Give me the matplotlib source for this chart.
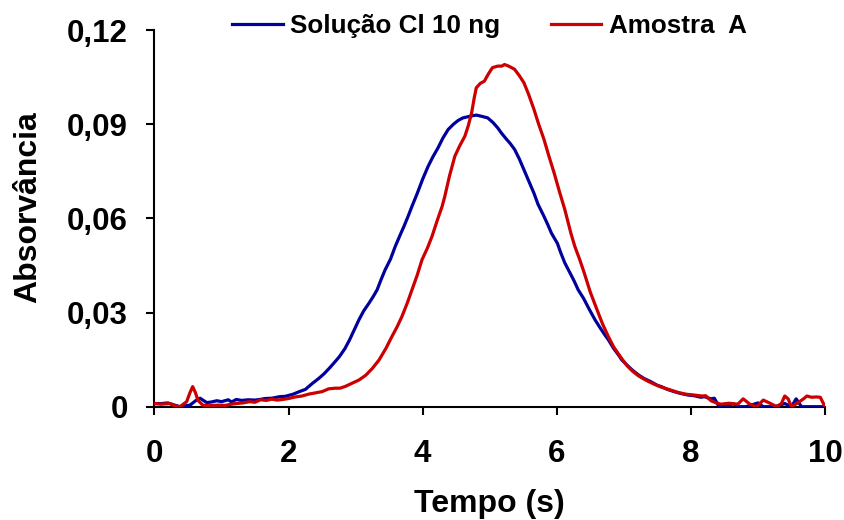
import matplotlib
matplotlib.use("Agg")
import matplotlib.pyplot as plt

plt.rcParams['font.family'] = ['Liberation Sans', 'DejaVu Sans']
plt.rcParams['font.weight'] = 'bold'

# Solução Cl 10 ng (tempo em s, absorvância)
t_sol = [0.0, 0.1, 0.2, 0.3, 0.38, 0.53, 0.62, 0.68, 0.78, 0.85, 0.93, 1.0, 1.1, 1.15, 1.22,
         1.3, 1.4, 1.5, 1.57, 1.65, 1.75, 1.87, 1.95, 2.07, 2.16, 2.25, 2.36, 2.45, 2.53,
         2.61, 2.68, 2.76, 2.84, 2.91, 2.98, 3.05, 3.12, 3.2, 3.26, 3.32, 3.38, 3.44, 3.52,
         3.59, 3.66, 3.72, 3.78, 3.84, 3.92, 4.0, 4.08, 4.15, 4.23, 4.3, 4.38, 4.46, 4.53,
         4.6, 4.7, 4.8, 4.88, 4.97, 5.05, 5.12, 5.17, 5.25, 5.3, 5.37, 5.44, 5.51, 5.58,
         5.66, 5.72, 5.81, 5.87, 5.92, 6.01, 6.06, 6.12, 6.2, 6.26, 6.32, 6.4, 6.48, 6.57,
         6.65, 6.72, 6.77, 6.85, 6.92, 6.97, 7.05, 7.13, 7.22, 7.3, 7.4, 7.5, 7.56, 7.65,
         7.75, 7.85, 7.96, 8.05, 8.15, 8.2, 8.3, 8.35, 8.42, 8.5, 8.55, 8.62, 8.72, 8.82,
         8.9, 9.0, 9.08, 9.15, 9.25, 9.4, 9.5, 9.57, 9.65, 9.8, 10.0]
a_sol = [0.001, 0.001, 0.0012, 0.0005, 0.0, 0.0005, 0.002, 0.0027, 0.0013, 0.0015, 0.0019,
         0.0016, 0.0022, 0.0015, 0.0023, 0.002, 0.0022, 0.0021, 0.0023, 0.0026, 0.0027,
         0.0032, 0.0033, 0.004, 0.0048, 0.0055, 0.0075, 0.009, 0.0105, 0.0123, 0.014,
         0.016, 0.0185, 0.0213, 0.0245, 0.0277, 0.0305, 0.033, 0.035, 0.0372, 0.0405,
         0.0436, 0.047, 0.051, 0.0545, 0.0574, 0.0605, 0.0638, 0.068, 0.0725, 0.0765,
         0.0795, 0.0825, 0.0855, 0.0883, 0.09, 0.0912, 0.092, 0.0925, 0.0929, 0.0925,
         0.092, 0.0905, 0.0888, 0.0873, 0.0852, 0.084, 0.082, 0.079, 0.0755, 0.072, 0.068,
         0.0645, 0.0606, 0.0578, 0.0553, 0.052, 0.049, 0.0458, 0.0425, 0.04, 0.0372,
         0.0345, 0.0312, 0.0277, 0.025, 0.0228, 0.0213, 0.0185, 0.0165, 0.0149, 0.0132,
         0.0116, 0.0101, 0.009, 0.008, 0.0068, 0.0064, 0.0055, 0.0048, 0.0042, 0.0037,
         0.0035, 0.003, 0.0032, 0.0025, 0.0027, 0.0, 0.0008, 0.0, 0.001, 0.0, 0.0, 0.0005,
         0.0012, 0.0, 0.0, 0.0, 0.001, 0.0, 0.0025, 0.0, 0.0, 0.0]

# Amostra A
t_am = [0.0, 0.1, 0.23, 0.3, 0.38, 0.48, 0.53, 0.57, 0.61, 0.65, 0.72, 0.8, 0.95, 1.05, 1.15,
        1.22, 1.32, 1.42, 1.5, 1.58, 1.67, 1.75, 1.83, 1.91, 2.0, 2.1, 2.2, 2.3, 2.4, 2.5,
        2.6, 2.7, 2.77, 2.85, 2.95, 3.05, 3.15, 3.25, 3.35, 3.45, 3.54, 3.62, 3.69, 3.77,
        3.84, 3.92, 3.99, 4.07, 4.14, 4.22, 4.29, 4.33, 4.4, 4.48, 4.55, 4.63, 4.68, 4.73,
        4.77, 4.8, 4.86, 4.92, 4.98, 5.04, 5.12, 5.18, 5.22, 5.26, 5.3, 5.37, 5.44, 5.51,
        5.58, 5.66, 5.73, 5.81, 5.88, 5.96, 6.04, 6.12, 6.21, 6.27, 6.34, 6.41, 6.5, 6.6,
        6.68, 6.77, 6.85, 6.92, 6.98, 7.05, 7.13, 7.22, 7.3, 7.37, 7.45, 7.55, 7.67, 7.8,
        7.92, 8.05, 8.17, 8.22, 8.3, 8.38, 8.45, 8.57, 8.7, 8.78, 8.88, 8.98, 9.08, 9.18,
        9.28, 9.35, 9.4, 9.45, 9.5, 9.6, 9.68, 9.73, 9.8, 9.87, 9.93, 10.0]
a_am = [0.001, 0.0008, 0.001, 0.0003, 0.0, 0.0016, 0.0045, 0.0064, 0.0045, 0.002, 0.0005,
        0.0003, 0.0005, 0.0004, 0.0008, 0.001, 0.0012, 0.0016, 0.0014, 0.0022, 0.002,
        0.0024, 0.0021, 0.0023, 0.0026, 0.0031, 0.0034, 0.004, 0.0044, 0.0048, 0.0057,
        0.0059, 0.0059, 0.0065, 0.0075, 0.0085, 0.01, 0.0122, 0.0149, 0.0185, 0.0223,
        0.0255, 0.0287, 0.033, 0.0372, 0.042, 0.0468, 0.0505, 0.0543, 0.0595, 0.0638,
        0.067, 0.0735, 0.0798, 0.083, 0.0862, 0.0895, 0.0936, 0.0985, 0.1016, 0.103,
        0.1037, 0.106, 0.108, 0.1085, 0.1085, 0.109, 0.1087, 0.1083, 0.1075, 0.1055,
        0.1032, 0.0995, 0.0947, 0.09, 0.0851, 0.08, 0.0745, 0.0685, 0.0628, 0.0553, 0.051,
        0.047, 0.0426, 0.0365, 0.0309, 0.0265, 0.0223, 0.019, 0.0168, 0.015, 0.013,
        0.0113, 0.0098, 0.0088, 0.008, 0.0072, 0.0063, 0.0055, 0.0046, 0.004, 0.0037,
        0.0034, 0.0035, 0.0019, 0.0012, 0.0008, 0.0011, 0.0008, 0.0025, 0.0008, 0.0,
        0.0021, 0.0011, 0.0, 0.001, 0.0034, 0.0025, 0.0, 0.0013, 0.0025, 0.0034, 0.003,
        0.0031, 0.003, 0.0]

x_ticks = [0, 2, 4, 6, 8, 10]
y_ticks = [0, 0.03, 0.06, 0.09, 0.12]
y_labels = ['0', '0,03', '0,06', '0,09', '0,12']

fig = plt.figure(figsize=(8.45, 5.2), dpi=100)
ax = fig.add_axes([0.1828, 0.2179, 0.7935, 0.7244])

ax.plot(t_sol, a_sol, color='#00009C', lw=2.3, label='Solução Cl 10 ng', zorder=3)
ax.plot(t_am, a_am, color='#CC0000', lw=2.3, label='Amostra  A', zorder=4)

ax.set_xlim(0, 10)
ax.set_ylim(0, 0.12)
ax.set_xticks(x_ticks)
ax.set_yticks(y_ticks)
ax.set_yticklabels(y_labels)
ax.tick_params(direction='out', length=6, width=1.5, labelsize=22.5, pad=13)
ax.tick_params(axis='x', pad=17)
for s in ['top', 'right']:
    ax.spines[s].set_visible(False)
for s in ['left', 'bottom']:
    ax.spines[s].set_linewidth(1.5)
    ax.spines[s].set_clip_on(False)

ax.set_xlabel('Tempo (s)', fontsize=23, fontweight='bold', labelpad=15)
ax.set_ylabel('Absorvância', fontsize=23, fontweight='bold')
ax.yaxis.set_label_coords(-0.166, 0.53)

fig.legend(loc='center left', bbox_to_anchor=(232 / 845, 1 - 26 / 520), ncol=2,
           frameon=False, fontsize=18.7, handlelength=1.95, handletextpad=0.28,
           columnspacing=1.95, borderpad=0, borderaxespad=0)

fig.savefig('out.png', dpi=100)
